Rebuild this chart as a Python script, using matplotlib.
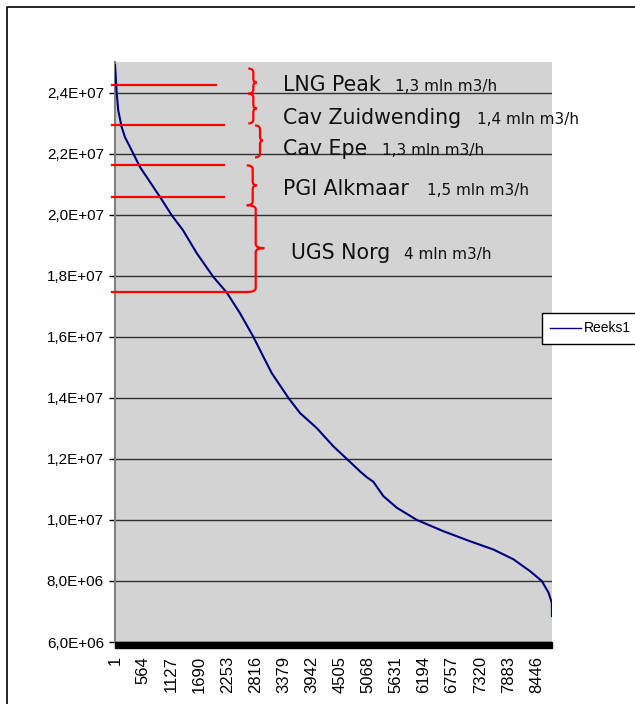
import numpy as np
import matplotlib
matplotlib.use('Agg')
import matplotlib.pyplot as plt
from matplotlib.path import Path
from matplotlib.patches import PathPatch, Rectangle
from matplotlib.lines import Line2D
from matplotlib.ticker import FuncFormatter
import matplotlib.transforms as mtransforms

# load duration curve (hour rank -> flow)
hours = [1, 34, 66, 134, 200, 335, 501, 902, 1137, 1363,
         1638, 1971, 2240, 2506, 2773, 2973, 3142, 3475, 3709, 4044,
         4377, 4646, 4912, 5047, 5179, 5379, 5648, 6049, 6582, 7118,
         7585, 7986, 8321, 8555, 8690, 8756, 8760]
flow = [2.49e7, 2.40e7, 2.341e7, 2.287e7, 2.254e7, 2.2105e7, 2.156e7, 2.058e7, 1.998e7, 1.949e7,
        1.874e7, 1.796e7, 1.745e7, 1.677e7, 1.60e7, 1.535e7, 1.481e7, 1.40e7, 1.350e7, 1.301e7,
        1.241e7, 1.20e7, 1.159e7, 1.140e7, 1.125e7, 1.078e7, 1.040e7, 1.00e7, 9.63e6, 9.30e6,
        9.03e6, 8.71e6, 8.32e6, 8.0e6, 7.62e6, 7.29e6, 6.85e6]
xtick_vals = list(range(1, 8761, 563))

# storage segments
seg_names = ['LNG Peak', 'Cav Zuidwending', 'Cav Epe', 'PGI Alkmaar', 'UGS Norg']
seg_caps = ['1,3 mln m3/h', '1,4 mln m3/h', '1,3 mln m3/h', '1,5 mln m3/h', '4 mln m3/h']
red_levels = [2.425e7, 2.294e7, 2.162e7, 2.058e7, 1.745e7]

# annotation geometry
red_ends = [2019, 2185, 2185, 2185, 2667]
red_start = -66
label_x = [3368, 3368, 3368, 3368, 3529]
cap_x = [5614, 7258, 5347, 6250, 5800]
label_y = [2.4042e7, 2.2977e7, 2.1941e7, 2.0634e7, 1.8533e7]
braces = [  # x0, xmid, xtip, ytop, ytip, ybot
    (2673, 2773, 2841, 2.4784e7, 2.4327e7, 2.3967e7),
    (2673, 2773, 2841, 2.3967e7, 2.3477e7, 2.2987e7),
    (2807, 2907, 2961, 2.2922e7, 2.2431e7, 2.1876e7),
    (2641, 2761, 2841, 2.1614e7, 2.0961e7, 2.0307e7),
    (2641, 2821, 2993, 2.0307e7, 1.8902e7, 1.7464e7),
]

W, H = 635, 704
fig = plt.figure(figsize=(W / 100, H / 100), dpi=100)
ax = fig.add_axes([115 / W, 1 - 642 / H, 437 / W, 580 / H])
ax.set_facecolor('#d3d3d3')

line, = ax.plot(hours, flow, color='#000080', lw=1.5, zorder=3)

ax.set_xlim(0.5, 8760.5)
ax.set_ylim(6.0e6, 2.5e7)
ax.set_yticks(np.arange(6.0e6, 2.41e7, 2.0e6))
ax.yaxis.set_major_formatter(FuncFormatter(lambda v, p: f'{v:.1E}'.replace('.', ',')))
ax.yaxis.grid(True, color='#303030', lw=1)
ax.set_axisbelow(True)
ax.set_xticks(xtick_vals)
ax.set_xticklabels([str(v) for v in xtick_vals], rotation=90, ha='center', va='top',
                   family='Liberation Sans', fontsize=12)
for lab in ax.get_xticklabels():
    lab.set_transform(lab.get_transform() + mtransforms.ScaledTranslation(0.045, 0, fig.dpi_scale_trans))
ax.tick_params(axis='x', length=0, pad=10)
ax.tick_params(axis='y', length=4, width=1, color='black', pad=4)
for lab in ax.get_yticklabels():
    lab.set_family(['Liberation Sans Narrow', 'Liberation Sans'])
    lab.set_fontsize(11)

for s in ['top', 'right', 'bottom']:
    ax.spines[s].set_visible(False)
ax.spines['left'].set_color('#808080')
ax.spines['left'].set_linewidth(1.5)

# black floor band
ax.add_patch(Rectangle((0, -6 / 580), 1, 6 / 580, transform=ax.transAxes,
                       color='black', clip_on=False, zorder=4))

# red level lines
for lvl, xe in zip(red_levels, red_ends):
    ax.plot([red_start, xe], [lvl, lvl], color='#ff0000', lw=1.6, clip_on=False, zorder=5)

# curly braces
r = 1.3e5
for x0, xm, x1, yt, yc, yb in braces:
    verts = [(x0, yt), (xm, yt), (xm, yt - r),
             (xm, yc + r), (xm, yc), (x1, yc),
             (xm, yc), (xm, yc - r),
             (xm, yb + r), (xm, yb), (x0, yb)]
    codes = [Path.MOVETO, Path.CURVE3, Path.CURVE3,
             Path.LINETO, Path.CURVE3, Path.CURVE3,
             Path.CURVE3, Path.CURVE3,
             Path.LINETO, Path.CURVE3, Path.CURVE3]
    ax.add_patch(PathPatch(Path(verts, codes), fill=False, edgecolor='#ff0000',
                           lw=1.6, clip_on=False, zorder=5))

# segment labels
for name, cap, lx, cx, ly in zip(seg_names, seg_caps, label_x, cap_x, label_y):
    ax.text(lx, ly, name, fontsize=14.8, va='baseline', ha='left', color='#111111',
            family='DejaVu Sans', zorder=6)
    ax.text(cx, ly, cap, fontsize=11, va='baseline', ha='left', color='#111111',
            family='DejaVu Sans', zorder=6)

# legend
leg = fig.legend([line], ['Reeks1'], loc='center left',
                 bbox_to_anchor=(542 / W, 1 - 328.5 / H), bbox_transform=fig.transFigure,
                 frameon=True, fancybox=False, edgecolor='black', framealpha=1,
                 prop={'family': ['Liberation Sans Narrow', 'Liberation Sans'], 'size': 10},
                 handlelength=2.2, handletextpad=0.25, borderpad=0.6, borderaxespad=0)
leg.get_frame().set_linewidth(1.0)
leg.get_lines()[0].set_linewidth(1.0)

# outer chart border (top and left edges visible)
fig.add_artist(Line2D([6.5 / W, 6.5 / W, 1], [0, 1 - 6.5 / H, 1 - 6.5 / H],
                      transform=fig.transFigure, color='black', lw=1.2))

fig.savefig('out.png', dpi=100)
